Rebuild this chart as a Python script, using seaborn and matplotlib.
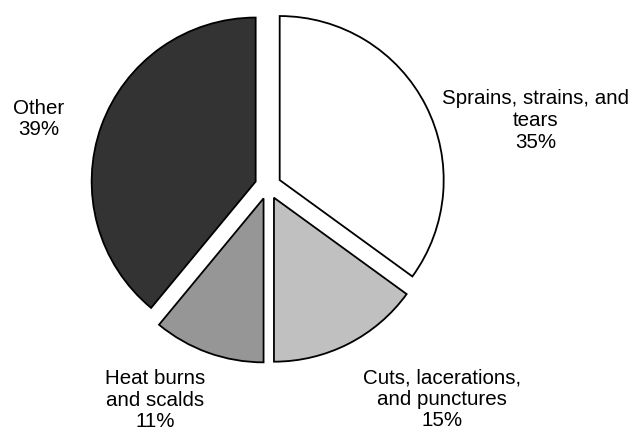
import matplotlib
matplotlib.use("Agg")
import matplotlib.pyplot as plt
import seaborn as sns

# injury types, share of cases (%)
categories = ["Sprains, strains, and\ntears", "Cuts, lacerations,\nand punctures",
              "Heat burns\nand scalds", "Other"]
shares = [35, 15, 11, 39]
colors = ["#ffffff", "#c0c0c0", "#969696", "#333333"]

sns.set_theme(style="white")
plt.rcParams["font.family"] = ["Liberation Sans", "DejaVu Sans"]

fig = plt.figure(figsize=(6.35, 4.33), dpi=100)
ax = fig.add_axes([0, 0, 1, 1])

wedges, _ = ax.pie(
    shares,
    colors=colors,
    startangle=90,
    counterclock=False,
    explode=[0.08] * len(shares),
    wedgeprops=dict(edgecolor="black", linewidth=1.3),
)

# label positions (data units, pie radius = 1)
label_pos = [(1.63, 0.40), (1.061, -1.30), (-0.689, -1.305), (-1.40, 0.409)]
for name, val, (x, y) in zip(categories, shares, label_pos):
    ax.text(x, y, f"{name}\n{val}%", ha="center", va="center",
            fontsize=14.8, linespacing=1.18, color="black")

ax.set_xlim(-268 / 164, (635 - 268) / 164)
ax.set_ylim(-(433 - 186) / 164, 186 / 164)
ax.set_aspect("equal")
ax.axis("off")

fig.savefig("out.png", dpi=100, facecolor="white")
